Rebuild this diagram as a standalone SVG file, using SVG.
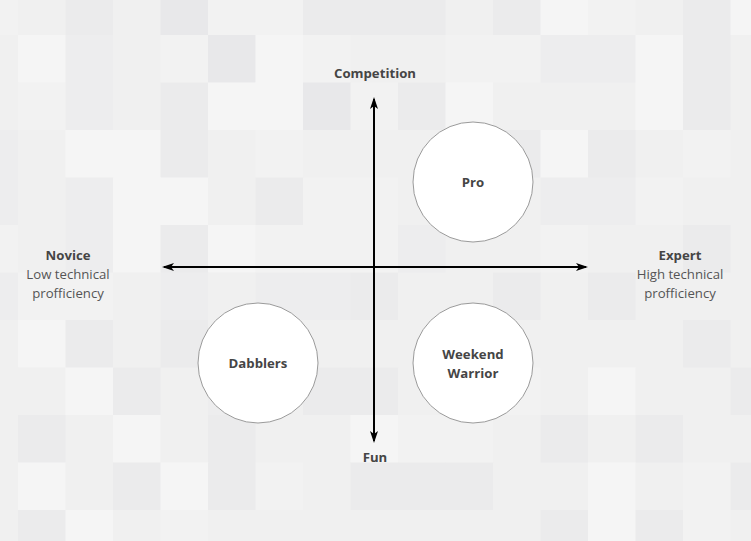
<svg xmlns="http://www.w3.org/2000/svg" width="751" height="541" viewBox="0 0 751 541">
<style>
.bg rect{width:48px;height:48px}
.a{fill:#f5f5f5}.b{fill:#f2f2f2}.c{fill:#f0f0f0}.d{fill:#ededee}.e{fill:#ebebec}.f{fill:#e8e8ea}
.axis{stroke:#000;stroke-width:2;fill:none}
.node circle{fill:#fff;stroke:#9a9a9a;stroke-width:1}
text{font-family:"Open Sans","Liberation Sans",sans-serif;font-size:13.2px;text-anchor:middle}
.bold{font-weight:bold;fill:#454545}
.reg{fill:#555}
</style>
<defs>
<marker id="arr" viewBox="0 0 12 8" refX="10" refY="4" markerWidth="12" markerHeight="8" markerUnits="userSpaceOnUse" orient="auto-start-reverse">
<path d="M0,0 L12,4 L0,8 L3,4 Z" fill="#000"/>
</marker>
</defs>
<rect width="751" height="541" fill="#f0f0f0"/>
<g class="bg">
<rect class="b" x="-29.5" y="-12.5"/><rect class="c" x="18" y="-12.5"/><rect class="e" x="65.5" y="-12.5"/><rect class="c" x="113" y="-12.5"/><rect class="f" x="160.5" y="-12.5"/><rect class="b" x="208" y="-12.5"/><rect class="b" x="255.5" y="-12.5"/><rect class="e" x="303" y="-12.5"/><rect class="e" x="350.5" y="-12.5"/><rect class="e" x="398" y="-12.5"/><rect class="c" x="445.5" y="-12.5"/><rect class="e" x="493" y="-12.5"/><rect class="a" x="540.5" y="-12.5"/><rect class="b" x="588" y="-12.5"/><rect class="c" x="635.5" y="-12.5"/><rect class="e" x="683" y="-12.5"/><rect class="a" x="730.5" y="-12.5"/>
<rect class="c" x="-29.5" y="35"/><rect class="a" x="18" y="35"/><rect class="d" x="65.5" y="35"/><rect class="c" x="113" y="35"/><rect class="b" x="160.5" y="35"/><rect class="f" x="208" y="35"/><rect class="a" x="255.5" y="35"/><rect class="b" x="303" y="35"/><rect class="c" x="350.5" y="35"/><rect class="c" x="398" y="35"/><rect class="b" x="445.5" y="35"/><rect class="b" x="493" y="35"/><rect class="d" x="540.5" y="35"/><rect class="d" x="588" y="35"/><rect class="a" x="635.5" y="35"/><rect class="e" x="683" y="35"/><rect class="c" x="730.5" y="35"/>
<rect class="c" x="-29.5" y="82.5"/><rect class="b" x="18" y="82.5"/><rect class="d" x="65.5" y="82.5"/><rect class="c" x="113" y="82.5"/><rect class="e" x="160.5" y="82.5"/><rect class="a" x="208" y="82.5"/><rect class="a" x="255.5" y="82.5"/><rect class="f" x="303" y="82.5"/><rect class="b" x="350.5" y="82.5"/><rect class="e" x="398" y="82.5"/><rect class="a" x="445.5" y="82.5"/><rect class="c" x="493" y="82.5"/><rect class="c" x="540.5" y="82.5"/><rect class="c" x="588" y="82.5"/><rect class="a" x="635.5" y="82.5"/><rect class="e" x="683" y="82.5"/><rect class="c" x="730.5" y="82.5"/>
<rect class="d" x="-29.5" y="130"/><rect class="c" x="18" y="130"/><rect class="a" x="65.5" y="130"/><rect class="a" x="113" y="130"/><rect class="e" x="160.5" y="130"/><rect class="c" x="208" y="130"/><rect class="b" x="255.5" y="130"/><rect class="c" x="303" y="130"/><rect class="c" x="350.5" y="130"/><rect class="c" x="398" y="130"/><rect class="c" x="445.5" y="130"/><rect class="e" x="493" y="130"/><rect class="a" x="540.5" y="130"/><rect class="e" x="588" y="130"/><rect class="c" x="635.5" y="130"/><rect class="b" x="683" y="130"/><rect class="c" x="730.5" y="130"/>
<rect class="d" x="-29.5" y="177.5"/><rect class="c" x="18" y="177.5"/><rect class="d" x="65.5" y="177.5"/><rect class="a" x="113" y="177.5"/><rect class="a" x="160.5" y="177.5"/><rect class="c" x="208" y="177.5"/><rect class="e" x="255.5" y="177.5"/><rect class="b" x="303" y="177.5"/><rect class="b" x="350.5" y="177.5"/><rect class="c" x="398" y="177.5"/><rect class="c" x="445.5" y="177.5"/><rect class="c" x="493" y="177.5"/><rect class="d" x="540.5" y="177.5"/><rect class="d" x="588" y="177.5"/><rect class="b" x="635.5" y="177.5"/><rect class="c" x="683" y="177.5"/><rect class="c" x="730.5" y="177.5"/>
<rect class="b" x="-29.5" y="225"/><rect class="c" x="18" y="225"/><rect class="d" x="65.5" y="225"/><rect class="a" x="113" y="225"/><rect class="e" x="160.5" y="225"/><rect class="a" x="208" y="225"/><rect class="b" x="255.5" y="225"/><rect class="b" x="303" y="225"/><rect class="b" x="350.5" y="225"/><rect class="d" x="398" y="225"/><rect class="c" x="445.5" y="225"/><rect class="c" x="493" y="225"/><rect class="b" x="540.5" y="225"/><rect class="c" x="588" y="225"/><rect class="c" x="635.5" y="225"/><rect class="e" x="683" y="225"/><rect class="c" x="730.5" y="225"/>
<rect class="d" x="-29.5" y="272.5"/><rect class="b" x="18" y="272.5"/><rect class="b" x="65.5" y="272.5"/><rect class="c" x="113" y="272.5"/><rect class="d" x="160.5" y="272.5"/><rect class="c" x="208" y="272.5"/><rect class="d" x="255.5" y="272.5"/><rect class="d" x="303" y="272.5"/><rect class="e" x="350.5" y="272.5"/><rect class="c" x="398" y="272.5"/><rect class="c" x="445.5" y="272.5"/><rect class="e" x="493" y="272.5"/><rect class="c" x="540.5" y="272.5"/><rect class="e" x="588" y="272.5"/><rect class="c" x="635.5" y="272.5"/><rect class="c" x="683" y="272.5"/><rect class="c" x="730.5" y="272.5"/>
<rect class="c" x="-29.5" y="320"/><rect class="a" x="18" y="320"/><rect class="e" x="65.5" y="320"/><rect class="c" x="113" y="320"/><rect class="e" x="160.5" y="320"/><rect class="c" x="208" y="320"/><rect class="c" x="255.5" y="320"/><rect class="c" x="303" y="320"/><rect class="c" x="350.5" y="320"/><rect class="c" x="398" y="320"/><rect class="c" x="445.5" y="320"/><rect class="c" x="493" y="320"/><rect class="c" x="540.5" y="320"/><rect class="c" x="588" y="320"/><rect class="c" x="635.5" y="320"/><rect class="e" x="683" y="320"/><rect class="c" x="730.5" y="320"/>
<rect class="c" x="-29.5" y="367.5"/><rect class="c" x="18" y="367.5"/><rect class="a" x="65.5" y="367.5"/><rect class="e" x="113" y="367.5"/><rect class="c" x="160.5" y="367.5"/><rect class="d" x="208" y="367.5"/><rect class="c" x="255.5" y="367.5"/><rect class="e" x="303" y="367.5"/><rect class="e" x="350.5" y="367.5"/><rect class="c" x="398" y="367.5"/><rect class="c" x="445.5" y="367.5"/><rect class="b" x="493" y="367.5"/><rect class="c" x="540.5" y="367.5"/><rect class="a" x="588" y="367.5"/><rect class="c" x="635.5" y="367.5"/><rect class="c" x="683" y="367.5"/><rect class="e" x="730.5" y="367.5"/>
<rect class="c" x="-29.5" y="415"/><rect class="e" x="18" y="415"/><rect class="c" x="65.5" y="415"/><rect class="a" x="113" y="415"/><rect class="c" x="160.5" y="415"/><rect class="e" x="208" y="415"/><rect class="c" x="255.5" y="415"/><rect class="c" x="303" y="415"/><rect class="a" x="350.5" y="415"/><rect class="b" x="398" y="415"/><rect class="b" x="445.5" y="415"/><rect class="c" x="493" y="415"/><rect class="e" x="540.5" y="415"/><rect class="c" x="588" y="415"/><rect class="e" x="635.5" y="415"/><rect class="c" x="683" y="415"/><rect class="c" x="730.5" y="415"/>
<rect class="c" x="-29.5" y="462.5"/><rect class="a" x="18" y="462.5"/><rect class="c" x="65.5" y="462.5"/><rect class="e" x="113" y="462.5"/><rect class="a" x="160.5" y="462.5"/><rect class="e" x="208" y="462.5"/><rect class="b" x="255.5" y="462.5"/><rect class="c" x="303" y="462.5"/><rect class="e" x="350.5" y="462.5"/><rect class="e" x="398" y="462.5"/><rect class="e" x="445.5" y="462.5"/><rect class="c" x="493" y="462.5"/><rect class="c" x="540.5" y="462.5"/><rect class="a" x="588" y="462.5"/><rect class="c" x="635.5" y="462.5"/><rect class="b" x="683" y="462.5"/><rect class="e" x="730.5" y="462.5"/>
<rect class="c" x="-29.5" y="510"/><rect class="e" x="18" y="510"/><rect class="a" x="65.5" y="510"/><rect class="c" x="113" y="510"/><rect class="b" x="160.5" y="510"/><rect class="c" x="208" y="510"/><rect class="c" x="255.5" y="510"/><rect class="c" x="303" y="510"/><rect class="c" x="350.5" y="510"/><rect class="c" x="398" y="510"/><rect class="c" x="445.5" y="510"/><rect class="c" x="493" y="510"/><rect class="e" x="540.5" y="510"/><rect class="a" x="588" y="510"/><rect class="e" x="635.5" y="510"/><rect class="b" x="683" y="510"/><rect class="c" x="730.5" y="510"/>
</g>
<g id="connectors">
<line class="axis" x1="374" y1="99" x2="374" y2="441" marker-start="url(#arr)" marker-end="url(#arr)"/>
<line class="axis" x1="164" y1="267" x2="586" y2="267" marker-start="url(#arr)" marker-end="url(#arr)"/>
</g>
<g id="competition"><text class="bold" x="375" y="78">Competition</text></g>
<g id="fun"><text class="bold" x="375" y="462">Fun</text></g>
<g id="novice"><text class="bold" x="68" y="260">Novice</text><text class="reg" x="68" y="279">Low technical</text><text class="reg" x="68" y="298">profficiency</text></g>
<g id="expert"><text class="bold" x="680" y="260">Expert</text><text class="reg" x="680" y="279">High technical</text><text class="reg" x="680" y="298">profficiency</text></g>
<g id="pro" class="node"><circle cx="473" cy="182" r="60"/><text class="bold" x="473" y="187">Pro</text></g>
<g id="dabblers" class="node"><circle cx="258" cy="363" r="60"/><text class="bold" x="258" y="368">Dabblers</text></g>
<g id="weekend-warrior" class="node"><circle cx="473" cy="363" r="60"/><text class="bold" x="473" y="359">Weekend</text><text class="bold" x="473" y="378">Warrior</text></g>
</svg>
